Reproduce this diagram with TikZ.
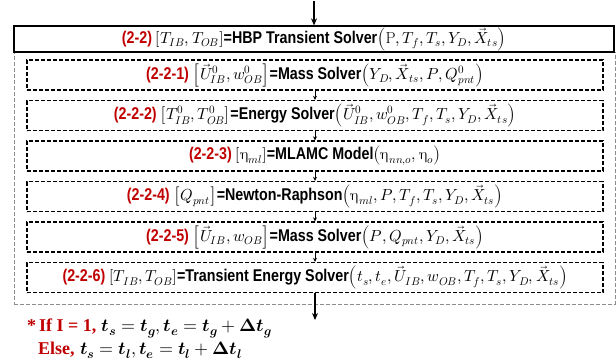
\documentclass[tikz,border=0pt]{standalone}
\usepackage{fontspec}
\usepackage{unicode-math}
\setmathfont{Latin Modern Math}
\newfontfamily\labfont[FakeStretch=0.84]{Liberation Sans}
\newfontfamily\serfont{Liberation Serif}
\usetikzlibrary{arrows.meta}
\definecolor{myred}{HTML}{C00000}
\newcommand\lb[1]{{\fontsize{17}{21}\selectfont\labfont\bfseries #1}}
\newcommand\lr[1]{{\fontsize{17}{21}\selectfont\labfont\bfseries\color{myred}#1}}
\newcommand\ueta{\symup{\eta}}
\newcommand\bt{\symbfit{t}}
\tikzset{
  txt/.style={font=\fontsize{16}{19}\selectfont, inner sep=0pt},
  topbox/.style={txt, draw=black, line width=1.3pt, minimum width=600pt, minimum height=26pt},
  subbox/.style={txt, draw=black, line width=1.3pt, dash pattern=on 4pt off 2pt, minimum width=576pt, minimum height=30pt},
  outerbox/.style={draw=black!45, line width=0.8pt, dash pattern=on 4pt off 2pt, minimum width=601pt, minimum height=252pt, inner sep=0pt},
  bigarr/.style={line width=1.3pt, -{Stealth[length=7pt,width=6pt]}},
  smallarr/.style={line width=1pt, -{Stealth[length=4pt,width=4pt]}},
  note/.style={font=\fontsize{18}{22}\selectfont, inner sep=0pt, anchor=base west}
}
\begin{document}
\begin{tikzpicture}[x=1pt,y=-1pt]
\useasboundingbox (0,0) rectangle (616,362);
\node[outerbox] (outer) at (314.5,178) {};
\node[topbox] (top) at (314,39) {\lr{(2-2) }$\left[T_{IB},T_{OB}\right]$\lb{=HBP Transient Solver}$\left(\mathrm{P},T_f,T_s,Y_D,\vec{X}_{ts}\right)$};
\node[subbox] (b1) at (315,75) {\lr{(2-2-1) }$\left[\vec{U}^{0}_{IB},w^{0}_{OB}\right]$\lb{=Mass Solver}$\left(Y_D,\vec{X}_{ts},P,Q^{0}_{pnt}\right)$};
\node[subbox] (b2) at (315,115.5) {\lr{(2-2-2) }$\left[T^{0}_{IB},T^{0}_{OB}\right]$\lb{=Energy Solver}$\left(\vec{U}^{0}_{IB},w^{0}_{OB},T_f,T_s,Y_D,\vec{X}_{ts}\right)$};
\node[subbox] (b3) at (315,156) {\lr{(2-2-3) }$\left[\ueta_{ml}\right]$\lb{=MLAMC Model}$\left(\ueta_{nn,o},\ueta_{o}\right)$};
\node[subbox] (b4) at (315,196.5) {\lr{(2-2-4) }$\left[Q_{pnt}\right]$\lb{=Newton-Raphson}$\left(\ueta_{ml},P,T_f,T_s,Y_D,\vec{X}_{ts}\right)$};
\node[subbox] (b5) at (315,237) {\lr{(2-2-5) }$\left[\vec{U}_{IB},w_{OB}\right]$\lb{=Mass Solver}$\left(P,Q_{pnt},Y_D,\vec{X}_{ts}\right)$};
\node[subbox] (b6) at (315,277.5) {\lr{(2-2-6) }$\left[T_{IB},T_{OB}\right]$\lb{=Transient Energy Solver}$\left(t_s,t_e,\vec{U}_{IB},w_{OB},T_f,T_s,Y_D,\vec{X}_{ts}\right)$};
\coordinate (in) at (314,1);
\coordinate (out) at (315,320);
\draw[bigarr] (in) -- (top.north);
\draw[smallarr] (b1.south) -- (b2.north);
\draw[smallarr] (b2.south) -- (b3.north);
\draw[smallarr] (b3.south) -- (b4.north);
\draw[smallarr] (b4.south) -- (b5.north);
\draw[smallarr] (b5.south) -- (b6.north);
\draw[bigarr] (b6.south) -- (out);
\node[note] (n1) at (27,331) {{\serfont\bfseries\color{myred}*\,If I = 1,} $\bt_{\symbfit{s}}=\bt_{\symbfit{g}},\bt_{\symbfit{e}}=\bt_{\symbfit{g}}+\symbfup{\Delta}\bt_{\symbfit{g}}$};
\node[note] (n2) at (38,354) {{\serfont\bfseries\color{myred}Else,} $\bt_{\symbfit{s}}=\bt_{\symbfit{l}},\bt_{\symbfit{e}}=\bt_{\symbfit{l}}+\symbfup{\Delta}\bt_{\symbfit{l}}$};
\end{tikzpicture}
\end{document}
